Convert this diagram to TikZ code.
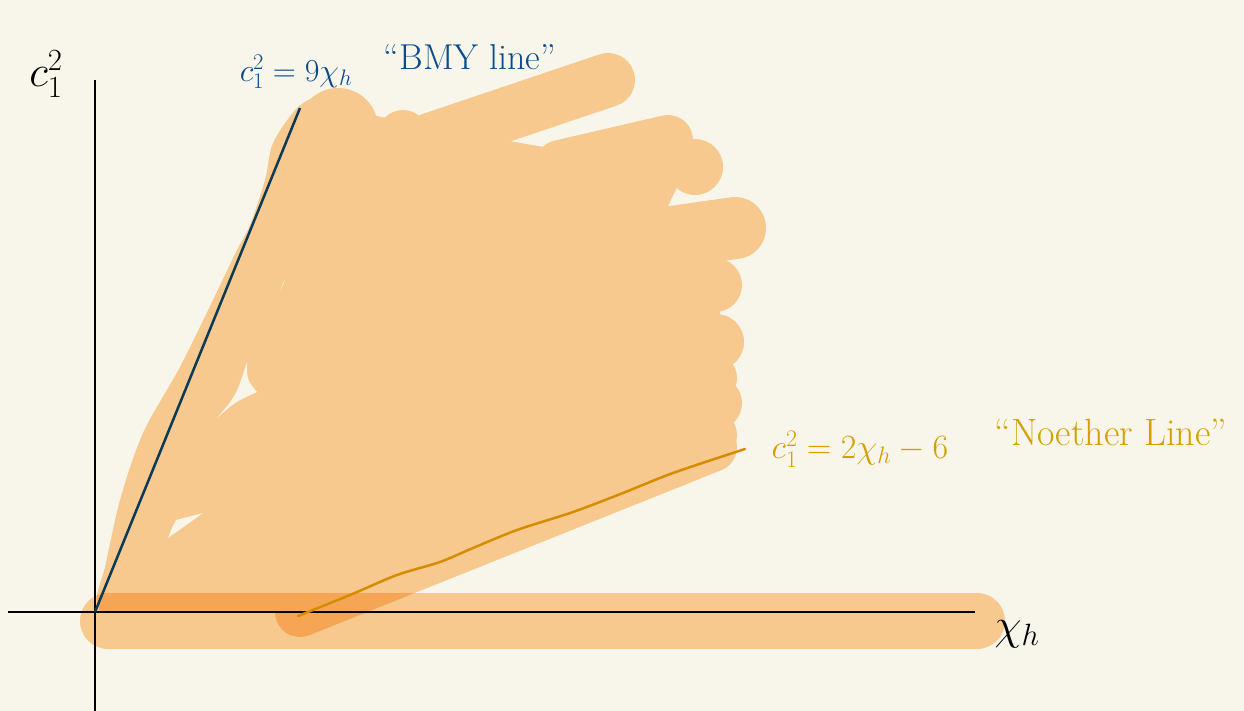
\RequirePackage{fix-cm}
\documentclass[tikz,border=0pt]{standalone}
\usepackage{amsmath}
\usepackage{xcolor}
\usetikzlibrary{positioning}
\definecolor{paperCream}{RGB}{248,246,234}
\definecolor{blobOrange}{RGB}{247,201,142}
\definecolor{blobOrangeDark}{RGB}{246,165,84}
\definecolor{bmyNavy}{RGB}{10,58,88}
\definecolor{bmyBlue}{RGB}{12,74,140}
\definecolor{noetherGold}{RGB}{212,160,0}
\definecolor{noetherAmber}{RGB}{214,140,0}

% the shaded region, drawn in one colour
\newcommand{\regionblob}[1]{%
  \fill[#1] plot[smooth] coordinates {(100,612) (97,595) (105,567) (120,500) (143,433)
      (180,367) (213,300) (237,250) (250,225) (265,180) (273,143) (297,108) (320,94)}
    -- (372,115) -- (420,125) -- (560,150) -- (690,160) -- (668,206) -- (720,250)
    -- (720,440) -- (712,447) -- (300,612) -- cycle;
  \fill[#1] (338,128) circle (40);
  \fill[#1] (403,135) circle (25);
  \draw[#1, line width=54pt, line cap=round] (430,140) -- (608,80);
  \draw[#1, line width=50pt, line cap=round] (560,165) -- (668,140);
  \fill[#1] (695,167) circle (28);
  \draw[#1, line width=62pt, line cap=round] (665,238) -- (735,228);
  \fill[#1] (715,285) circle (27);
  \fill[#1] (716,342) circle (28);
  \fill[#1] (712,378) circle (25);
  \fill[#1] (715,403) circle (27);
  \fill[#1] (712,435) circle (25);
  \draw[#1, line width=50pt, line cap=round] (300,612) -- (712,447);
}

\begin{document}
\begin{tikzpicture}[x=1pt,y=-1pt,
    axisline/.style={black, line width=2.6pt},
    bmylabel/.style={text=bmyBlue, font=\fontsize{32}{38}\selectfont, inner sep=0pt},
    noetherlabel/.style={text=noetherGold, font=\fontsize{34}{40}\selectfont, inner sep=0pt},
    axislabel/.style={text=black, font=\fontsize{44}{50}\selectfont, inner sep=0pt}]

    \useasboundingbox (0,0) rectangle (1244,711);
    \fill[paperCream] (0,0) rectangle (1244,711);

    % shaded region and the bar along the axis
    \regionblob{blobOrange}
    \fill[blobOrange, rounded corners=28pt] (80,593) rectangle (1005,649);
    \begin{scope}
        \clip[rounded corners=28pt] (80,593) rectangle (1005,649);
        \regionblob{blobOrangeDark}
    \end{scope}

    % small gaps in the shading
    \fill[paperCream] (247,362) .. controls (247,380) .. (257,392)
        .. controls (235,402) .. (217,418) .. controls (236,396) .. (247,362) -- cycle;
    \fill[paperCream] (203,513) -- (168,538) .. controls (172,528) .. (176,520) -- cycle;
    \fill[paperCream] (285,280) -- (280,292) -- (283,283) -- cycle;

    % axes
    \coordinate (origin) at (95,612);
    \coordinate (xstart) at (8,612);
    \coordinate (xend) at (975,612);
    \coordinate (ystart) at (95,711);
    \coordinate (yend) at (95,80);
    \draw[axisline] (xstart) -- (xend);
    \draw[axisline] (ystart) -- (yend);
    \node[axislabel] (ylabel) at (46,74) {$c_1^2$};
    \node[axislabel] (xlabel) at (1017,634) {$\chi_h$};

    % BMY line
    \coordinate (bmyend) at (300,108);
    \draw[bmyNavy, line width=2.5pt] (origin) -- (bmyend);
    \node[bmylabel] (bmyeq) at (296,72) {$c_1^2=9\chi_h$};
    \node[bmylabel, font=\fontsize{36}{42}\selectfont] (bmyname) at (470,57) {``BMY line''};

    % Noether line
    \coordinate (noetherstart) at (298,616);
    \coordinate (noetherend) at (745,449);
    \draw[noetherAmber, line width=2.5pt, line cap=round] plot[smooth] coordinates {(noetherstart)
        (350,595) (397,575) (440,562) (473,548) (517,530) (573,512) (623,493) (673,473) (noetherend)};
    \node[noetherlabel] (noethereq) at (860,449) {$c_1^2=2\chi_h-6$};
    \node[noetherlabel, font=\fontsize{38}{44}\selectfont] (noethername) at (1111,432) {``Noether Line''};

\end{tikzpicture}
\end{document}
